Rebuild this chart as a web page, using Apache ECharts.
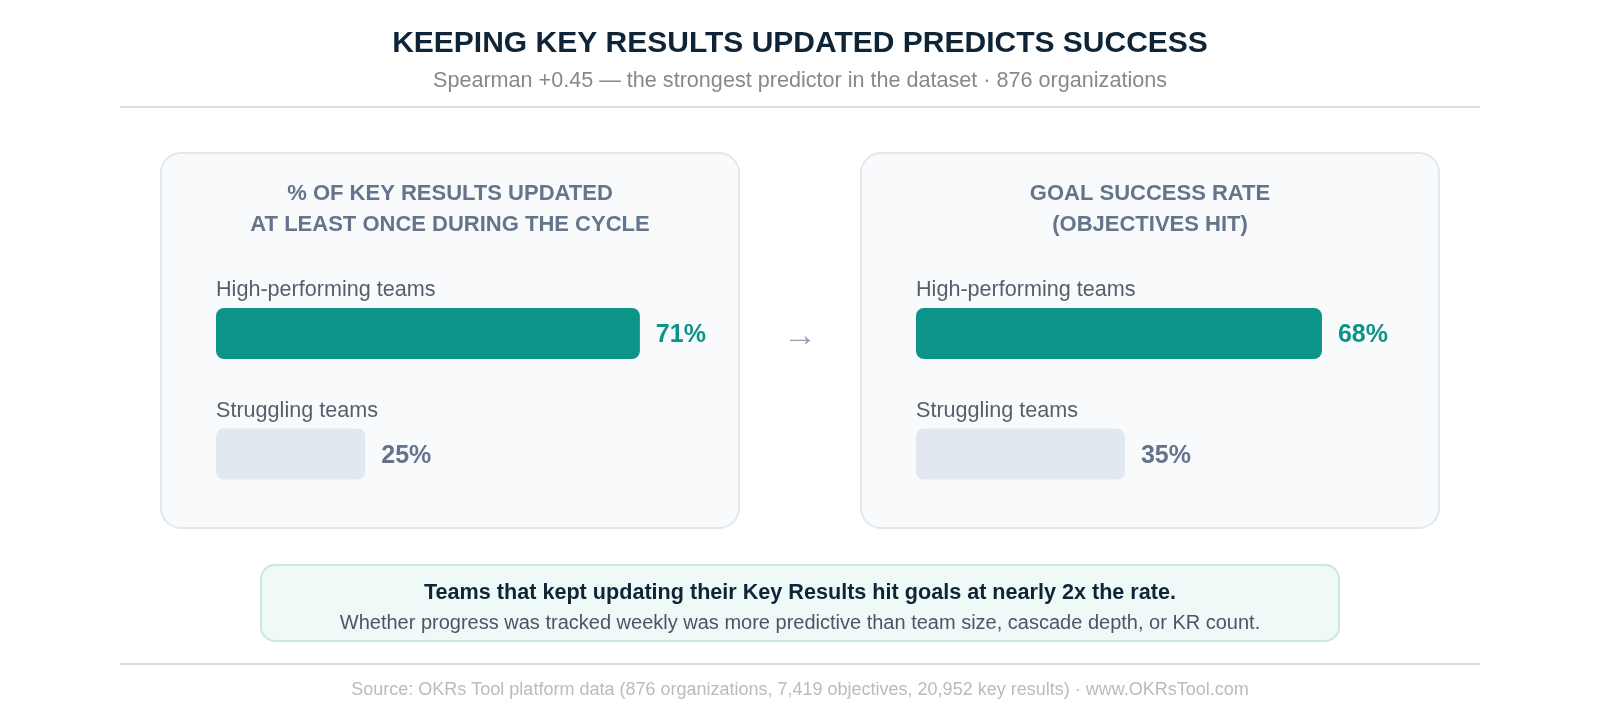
<!DOCTYPE html>
<html>
<head>
<meta charset="utf-8">
<script src="https://cdn.jsdelivr.net/npm/echarts@6/dist/echarts.min.js"></script>
<style>
html,body{margin:0;padding:0;background:#fff;}
#chart{width:1600px;height:720px;}
</style>
</head>
<body>
<div id="chart"></div>
<script>
const categories = ['High-performing teams', 'Struggling teams'];
const krUpdatedPct = [71, 25];
const goalSuccessPct = [68, 35];
const panelTitles = [
  ['% OF KEY RESULTS UPDATED', 'AT LEAST ONCE DURING THE CYCLE'],
  ['GOAL SUCCESS RATE', '(OBJECTIVES HIT)']
];
const titleText = 'KEEPING KEY RESULTS UPDATED PREDICTS SUCCESS';
const subtitleText = 'Spearman +0.45 \u2014 the strongest predictor in the dataset \u00b7 876 organizations';
const calloutHead = 'Teams that kept updating their Key Results hit goals at nearly 2x the rate.';
const calloutBody = 'Whether progress was tracked weekly was more predictive than team size, cascade depth, or KR count.';
const sourceText = 'Source: OKRs Tool platform data (876 organizations, 7,419 objectives, 20,952 key results) \u00b7 www.OKRsTool.com';

const FONT = "'Liberation Sans', Arial, Helvetica, sans-serif";
const TEAL = '#0d9488';
const GREY_BAR = '#e2e8f0';
const SLATE = '#64748b';

const chart = echarts.init(document.getElementById('chart'), null, {renderer: 'canvas'});

const barColors = [TEAL, GREY_BAR];
const labelColors = [TEAL, SLATE];

function barData(vals) {
  return vals.map((v, i) => ({
    value: v,
    itemStyle: {color: barColors[i], borderRadius: 8},
    label: {color: labelColors[i]}
  }));
}
function catLabelData(vals) {
  return categories.map((c, i) => ({value: [0, i], name: c}));
}

const panelX = [160, 860];
const gridLeft = [216, 916];

const grids = gridLeft.map(l => ({left: l, width: 597, top: 273.25, height: 241, containLabel: false}));
const xAxes = gridLeft.map((l, i) => ({type: 'value', gridIndex: i, min: 0, max: 100, show: false}));
const yAxes = gridLeft.map((l, i) => ({type: 'category', gridIndex: i, data: categories, inverse: true, show: false}));

const series = [];
[krUpdatedPct, goalSuccessPct].forEach((vals, i) => {
  series.push({
    type: 'bar', xAxisIndex: i, yAxisIndex: i, barWidth: 51,
    data: barData(vals),
    silent: true,
    label: {show: true, position: 'right', distance: 16, offset: [0, 2], formatter: '{c}%',
            fontFamily: FONT, fontWeight: 'bold', fontSize: 25}
  });
  series.push({
    type: 'scatter', xAxisIndex: i, yAxisIndex: i, symbolSize: 0, silent: true,
    data: catLabelData(vals),
    label: {show: true, position: [0, -43], align: 'left', verticalAlign: 'middle',
            formatter: p => p.name, fontFamily: FONT, fontSize: 21.6, color: '#2d3748'}
  });
});

const graphics = [
  {type: 'text', left: 'center', top: 29, style: {text: titleText, font: 'bold 30px ' + FONT, fill: '#0f2537'}},
  {type: 'text', left: 'center', top: 70, style: {text: subtitleText, font: '21.6px ' + FONT, fill: '#888888'}},
  {type: 'rect', shape: {x: 120, y: 106, width: 1360, height: 2}, style: {fill: '#dddddd'}},
  {type: 'rect', shape: {x: 120, y: 663, width: 1360, height: 2}, style: {fill: '#dddddd'}},
  {type: 'text', left: 'center', top: 681, style: {text: sourceText, font: '18px ' + FONT, fill: '#bbbbbb'}},
  {type: 'rect', z: -1, shape: {x: 261, y: 565, width: 1078, height: 76, r: 14},
   style: {fill: '#eff9f7', stroke: '#c9e8e1', lineWidth: 2}},
  {type: 'text', left: 'center', top: 582, style: {text: calloutHead, font: 'bold 21.6px ' + FONT, fill: '#0f2537'}},
  {type: 'text', left: 'center', top: 613, style: {text: calloutBody, font: '20px ' + FONT, fill: '#4a5568'}},
  {type: 'text', x: 800, y: 337, style: {text: '\u2192', font: '34px ' + FONT, fill: '#94a3b8', textAlign: 'center', textVerticalAlign: 'middle'}}
];
panelX.forEach((px, i) => {
  graphics.push({type: 'rect', z: -1, shape: {x: px + 1, y: 153, width: 578, height: 375, r: 20},
    style: {fill: '#f8fafc', stroke: '#e2e8f0', lineWidth: 2}});
  panelTitles[i].forEach((t, j) => {
    graphics.push({type: 'text', x: px + 290, y: 193.5 + j * 31.5,
      style: {text: t, font: 'bold 22px ' + FONT, fill: SLATE, textAlign: 'center', textVerticalAlign: 'middle'}});
  });
});

chart.setOption({
  backgroundColor: '#ffffff',
  animation: false,
  textStyle: {fontFamily: FONT},
  grid: grids,
  xAxis: xAxes,
  yAxis: yAxes,
  series: series,
  graphic: graphics
});
</script>
</body>
</html>
